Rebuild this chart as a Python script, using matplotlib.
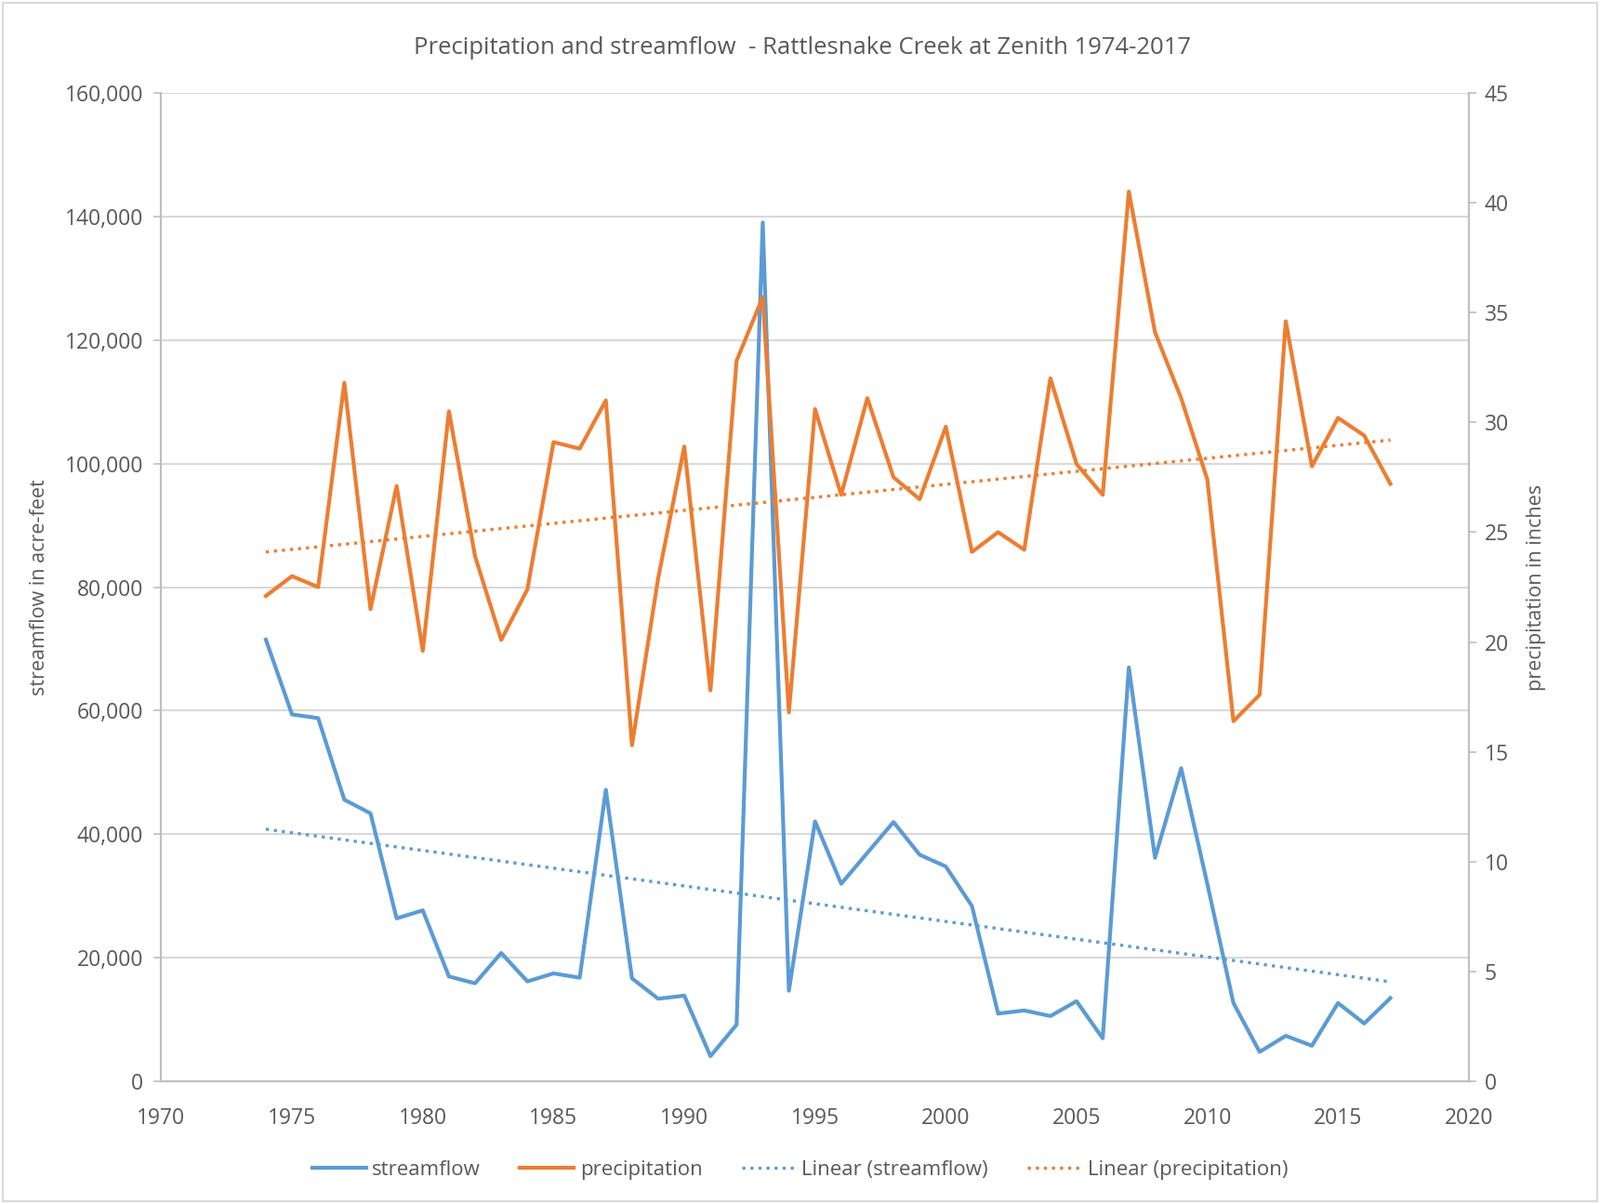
import numpy as np
import matplotlib
matplotlib.use('Agg')
import matplotlib.pyplot as plt
from matplotlib.patches import Rectangle

plt.rcParams['font.family'] = ['Open Sans', 'DejaVu Sans']

years = np.arange(1974, 2018)

streamflow = [71500, 59400, 58800, 45600, 43400, 26400, 27700, 17000, 15900, 20800,
              16200, 17500, 16800, 47200, 16700, 13400, 13900, 4100, 9200, 139000,
              14700, 42100, 32000, 37000, 42000, 36700, 34800, 28400, 11000, 11500,
              10600, 13000, 7000, 67000, 36200, 50700, 32000, 12700, 4800, 7400,
              5800, 12700, 9400, 13500]

precipitation = [22.1, 23.0, 22.5, 31.8, 21.5, 27.1, 19.6, 30.5, 23.9, 20.1,
                 22.4, 29.1, 28.8, 31.0, 15.3, 22.9, 28.9, 17.8, 32.8, 35.7,
                 16.8, 30.6, 26.7, 31.1, 27.5, 26.5, 29.8, 24.1, 25.0, 24.2,
                 32.0, 28.1, 26.7, 40.5, 34.1, 31.1, 27.4, 16.4, 17.6, 34.6,
                 28.0, 30.2, 29.4, 27.2]

blue = '#5B9BD5'
orange = '#ED7D31'
grey = '#595959'
light = '#D9D9D9'

fig = plt.figure(figsize=(17.21, 12.95), dpi=100)
ax = fig.add_axes([0.1008, 0.1017, 0.8172, 0.8213])
ax2 = ax.twinx()

# Excel-style linear trendlines
sf_fit = np.polyfit(years, streamflow, 1)
pr_fit = np.polyfit(years, precipitation, 1)

l1, = ax.plot(years, streamflow, c=blue, lw=3.0, label='streamflow', zorder=3)
l3, = ax.plot(years, np.polyval(sf_fit, years), c=blue, lw=2.4,
              ls=(0, (1, 1.6)), label='Linear (streamflow)', zorder=3)
l2, = ax2.plot(years, precipitation, c=orange, lw=3.0, label='precipitation')
l4, = ax2.plot(years, np.polyval(pr_fit, years), c=orange, lw=2.4,
               ls=(0, (1, 1.6)), label='Linear (precipitation)')

ax.set_xlim(1970, 2020)
ax.set_xticks(np.arange(1970, 2021, 5))
ax.set_ylim(0, 160000)
ax.set_yticks(np.arange(0, 160001, 20000))
ax.yaxis.set_major_formatter(matplotlib.ticker.FuncFormatter(lambda v, p: f'{int(v):,}'))
ax2.set_ylim(0, 45)
ax2.set_yticks(np.arange(0, 46, 5))

ax.grid(axis='y', color=light, lw=1.5, zorder=0)
ax.set_axisbelow(True)

for a in (ax, ax2):
    for s in a.spines.values():
        s.set_color('#BFBFBF')
        s.set_linewidth(1.5)
    a.spines['top'].set_visible(False)
    a.tick_params(colors=grey, labelsize=16.5, length=6, width=1.2)
    a.tick_params(axis='both', color='#BFBFBF')
ax.tick_params(axis='x', length=0, pad=20)
ax.tick_params(axis='y', pad=8)
ax2.tick_params(axis='y', pad=6)

ax.set_ylabel('streamflow in acre-feet', color=grey, fontsize=15.5, labelpad=12)
ax2.set_ylabel('precipitation in inches', color=grey, fontsize=15.5, rotation=90, labelpad=14)
ax.set_title('Precipitation and streamflow  - Rattlesnake Creek at Zenith 1974-2017',
             color=grey, fontsize=18.5, pad=30, x=0.49)

fig.legend(handles=[l1, l2, l3, l4], loc='center', bbox_to_anchor=(0.5, 0.028),
           ncol=4, frameon=False, fontsize=16, labelcolor=grey,
           handlelength=2.6, columnspacing=1.9, handletextpad=0.3)

fig.patches.append(Rectangle((0.002, 0.002), 0.996, 0.996, transform=fig.transFigure,
                             fill=False, edgecolor=light, lw=1.5))

fig.savefig('out.png', dpi=100)
